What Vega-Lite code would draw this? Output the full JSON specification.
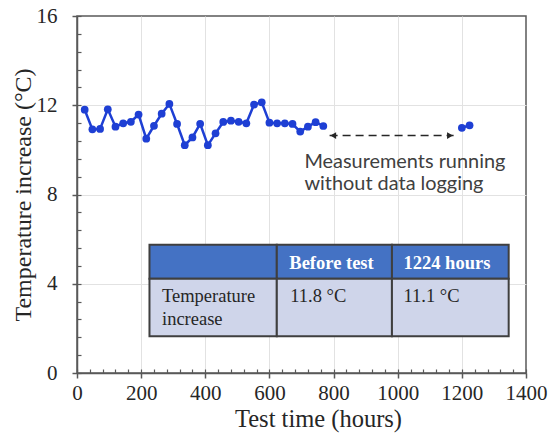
{
  "$schema": "https://vega.github.io/schema/vega-lite/v6.json",
  "width": 449,
  "height": 357,
  "autosize": "none",
  "padding": {"left": 77, "top": 16, "right": 23, "bottom": 63},
  "background": "white",
  "config": {
    "view": {"stroke": "#595959", "strokeWidth": 1.5},
    "font": "Liberation Serif",
    "axis": {"labelFont": "Liberation Serif", "labelFontWeight": "normal", "titleFont": "Liberation Serif"}
  },
  "datasets": {
    "temps": [
      {"hours": 24, "temp": 11.8, "segment": "logged"},
      {"hours": 48, "temp": 10.92, "segment": "logged"},
      {"hours": 72, "temp": 10.94, "segment": "logged"},
      {"hours": 96, "temp": 11.82, "segment": "logged"},
      {"hours": 120, "temp": 11.04, "segment": "logged"},
      {"hours": 144, "temp": 11.19, "segment": "logged"},
      {"hours": 168, "temp": 11.26, "segment": "logged"},
      {"hours": 192, "temp": 11.58, "segment": "logged"},
      {"hours": 216, "temp": 10.5, "segment": "logged"},
      {"hours": 240, "temp": 11.08, "segment": "logged"},
      {"hours": 264, "temp": 11.62, "segment": "logged"},
      {"hours": 288, "temp": 12.06, "segment": "logged"},
      {"hours": 312, "temp": 11.16, "segment": "logged"},
      {"hours": 336, "temp": 10.21, "segment": "logged"},
      {"hours": 360, "temp": 10.56, "segment": "logged"},
      {"hours": 384, "temp": 11.17, "segment": "logged"},
      {"hours": 408, "temp": 10.21, "segment": "logged"},
      {"hours": 432, "temp": 10.74, "segment": "logged"},
      {"hours": 456, "temp": 11.25, "segment": "logged"},
      {"hours": 480, "temp": 11.31, "segment": "logged"},
      {"hours": 504, "temp": 11.26, "segment": "logged"},
      {"hours": 528, "temp": 11.19, "segment": "logged"},
      {"hours": 552, "temp": 12.03, "segment": "logged"},
      {"hours": 576, "temp": 12.13, "segment": "logged"},
      {"hours": 600, "temp": 11.22, "segment": "logged"},
      {"hours": 624, "temp": 11.19, "segment": "logged"},
      {"hours": 648, "temp": 11.19, "segment": "logged"},
      {"hours": 672, "temp": 11.16, "segment": "logged"},
      {"hours": 696, "temp": 10.82, "segment": "logged"},
      {"hours": 720, "temp": 11.04, "segment": "logged"},
      {"hours": 744, "temp": 11.24, "segment": "logged"},
      {"hours": 768, "temp": 11.07, "segment": "logged"},
      {"hours": 1200, "temp": 10.99, "segment": "final"},
      {"hours": 1224, "temp": 11.1, "segment": "final"}
    ],
    "cells": [
      {"row": "head", "x0": 226, "x1": 623, "y0": 4.22, "y1": 5.75},
      {"row": "head", "x0": 623, "x1": 982, "y0": 4.22, "y1": 5.75},
      {"row": "head", "x0": 982, "x1": 1346, "y0": 4.22, "y1": 5.75},
      {"row": "body", "x0": 226, "x1": 623, "y0": 1.65, "y1": 4.22},
      {"row": "body", "x0": 623, "x1": 982, "y0": 1.65, "y1": 4.22},
      {"row": "body", "x0": 982, "x1": 1346, "y0": 1.65, "y1": 4.22}
    ],
    "headerText": [
      {"x": 662, "y": 4.67, "label": "Before test"},
      {"x": 1018, "y": 4.67, "label": "1224 hours"}
    ],
    "bodyText": [
      {"x": 265, "y": 3.17, "label": "Temperature\nincrease"},
      {"x": 665, "y": 3.17, "label": "11.8 °C"},
      {"x": 1018, "y": 3.17, "label": "11.1 °C"}
    ],
    "note": [
      {"x": 709, "y": 9.18, "label": "Measurements running\nwithout data logging"}
    ],
    "gap": [
      {"x": 787.6, "x2": 1174.3, "y": 10.64}
    ],
    "heads": [
      {"x": 799, "y": 10.64, "end": "left"},
      {"x": 1163, "y": 10.64, "end": "right"}
    ]
  },
  "layer": [
    {
      "data": {"name": "cells"},
      "mark": {"type": "rect", "stroke": "#3F3F3F", "strokeWidth": 2},
      "encoding": {
        "x": {
          "field": "x0", "type": "quantitative",
          "scale": {"domain": [0, 1400], "nice": false, "zero": false},
          "axis": {
            "orient": "bottom", "values": [200, 400, 600, 800, 1000, 1200],
            "grid": true, "gridColor": "#E2E2E2", "gridWidth": 1,
            "ticks": false, "labels": false, "domain": false, "title": null
          }
        },
        "x2": {"field": "x1"},
        "y": {
          "field": "y0", "type": "quantitative",
          "scale": {"domain": [0, 16], "nice": false, "zero": false},
          "axis": {
            "orient": "left", "values": [4, 8, 12],
            "grid": true, "gridColor": "#E2E2E2", "gridWidth": 1,
            "ticks": false, "labels": false, "domain": false, "title": null
          }
        },
        "y2": {"field": "y1"},
        "fill": {
          "field": "row", "type": "nominal",
          "scale": {"domain": ["head", "body"], "range": ["#4472C4", "#CFD5EA"]},
          "legend": null
        }
      }
    },
    {
      "data": {"name": "headerText"},
      "mark": {"type": "text", "align": "left", "baseline": "alphabetic", "font": "Liberation Serif", "fontSize": 18.5, "fontWeight": "bold", "color": "#FFFFFF"},
      "encoding": {
        "x": {"field": "x", "type": "quantitative", "axis": null},
        "y": {"field": "y", "type": "quantitative", "axis": null},
        "text": {"field": "label"}
      }
    },
    {
      "data": {"name": "bodyText"},
      "mark": {"type": "text", "align": "left", "baseline": "alphabetic", "font": "Liberation Serif", "fontWeight": "normal", "fontSize": 18.5, "color": "#262626", "lineBreak": "\n", "lineHeight": 23},
      "encoding": {
        "x": {"field": "x", "type": "quantitative", "axis": null},
        "y": {"field": "y", "type": "quantitative", "axis": null},
        "text": {"field": "label"}
      }
    },
    {
      "data": {"name": "note"},
      "mark": {"type": "text", "align": "left", "baseline": "alphabetic", "font": "Lato", "fontWeight": "normal", "fontSize": 19.9, "color": "#404040", "lineBreak": "\n", "lineHeight": 21.6},
      "encoding": {
        "x": {"field": "x", "type": "quantitative", "axis": null},
        "y": {"field": "y", "type": "quantitative", "axis": null},
        "text": {"field": "label"}
      }
    },
    {
      "data": {"name": "gap"},
      "mark": {"type": "rule", "stroke": "#262626", "strokeWidth": 1.5, "strokeDash": [8, 5]},
      "encoding": {
        "x": {"field": "x", "type": "quantitative", "axis": null},
        "x2": {"field": "x2"},
        "y": {"field": "y", "type": "quantitative", "axis": null}
      }
    },
    {
      "data": {"name": "heads"},
      "mark": {"type": "point", "filled": true, "color": "#262626", "size": 45, "opacity": 1},
      "encoding": {
        "x": {"field": "x", "type": "quantitative", "axis": null},
        "y": {"field": "y", "type": "quantitative", "axis": null},
        "shape": {
          "field": "end", "type": "nominal",
          "scale": {"domain": ["left", "right"], "range": ["triangle-left", "triangle-right"]},
          "legend": null
        }
      }
    },
    {
      "data": {"name": "temps"},
      "mark": {"type": "line", "color": "#1E3FD4", "strokeWidth": 2.5},
      "encoding": {
        "x": {
          "field": "hours", "type": "quantitative",
          "axis": {
            "orient": "bottom",
            "values": [0, 200, 400, 600, 800, 1000, 1200, 1400],
            "format": "d",
            "grid": false, "domainColor": "#595959", "domainWidth": 1.5,
            "tickColor": "#595959", "tickWidth": 1.5, "tickSize": 5,
            "labelFont": "Liberation Serif", "labelFontWeight": "normal",
            "labelFontSize": 21, "labelColor": "#262626",
            "labelPadding": 4, "labelFlush": false,
            "title": "Test time (hours)", "titleFont": "Liberation Serif",
            "titleFontSize": 24.5, "titleFontWeight": "normal", "titleColor": "#262626",
            "titleAnchor": "middle", "titleX": 241,
            "titlePadding": 4
          }
        },
        "y": {
          "field": "temp", "type": "quantitative",
          "axis": {
            "orient": "left",
            "values": [0, 4, 8, 12, 16],
            "format": "d",
            "grid": false, "domainColor": "#595959", "domainWidth": 1.5,
            "tickColor": "#595959", "tickWidth": 1.5, "tickSize": 5,
            "labelFont": "Liberation Serif", "labelFontWeight": "normal",
            "labelFontSize": 21, "labelColor": "#262626",
            "labelPadding": 15, "labelFlush": false,
            "title": "Temperature increase (°C)", "titleFont": "Liberation Serif",
            "titleFontSize": 24, "titleFontWeight": "normal", "titleColor": "#262626",
            "titlePadding": 1
          }
        },
        "detail": {"field": "segment"}
      }
    },
    {
      "data": {"name": "temps"},
      "mark": {"type": "point", "filled": true, "color": "#1E3FD4", "size": 60, "opacity": 1},
      "encoding": {
        "x": {
          "field": "hours", "type": "quantitative",
          "axis": {
            "orient": "bottom",
            "values": [0, 40, 80, 120, 160, 200, 240, 280, 320, 360, 400, 440, 480, 520, 560, 600, 640, 680, 720, 760, 800, 840, 880, 920, 960, 1000, 1040, 1080, 1120, 1160, 1200, 1240, 1280, 1320, 1360, 1400],
            "grid": false, "domain": false, "labels": false, "title": null,
            "tickColor": "#595959", "tickWidth": 1.2, "tickSize": -4
          }
        },
        "y": {
          "field": "temp", "type": "quantitative",
          "axis": {
            "orient": "left",
            "values": [0, 0.8, 1.6, 2.4, 3.2, 4, 4.8, 5.6, 6.4, 7.2, 8, 8.8, 9.6, 10.4, 11.2, 12, 12.8, 13.6, 14.4, 15.2, 16],
            "grid": false, "domain": false, "labels": false, "title": null,
            "tickColor": "#595959", "tickWidth": 1.2, "tickSize": -4
          }
        }
      }
    }
  ],
  "resolve": {"axis": {"x": "independent", "y": "independent"}}
}
